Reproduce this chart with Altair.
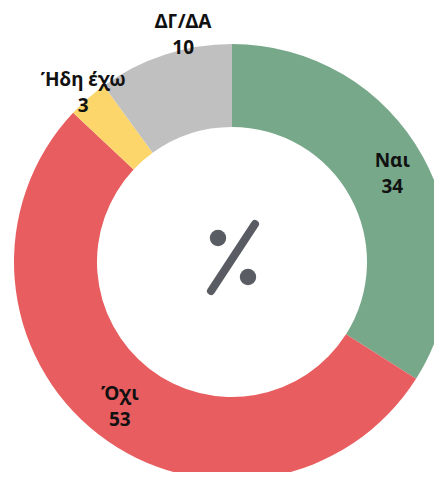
import altair as alt
import pandas as pd

categories = ["Ναι", "Όχι", "Ήδη έχω", "ΔΓ/ΔΑ"]
values = [34, 53, 3, 10]
colors = ["#78a88a", "#e85e60", "#fcd66b", "#c0c0c0"]

df = pd.DataFrame({
    "cat": categories,
    "value": values,
    "order": list(range(len(categories))),
})
df["label"] = [f"{c}\n{v}" for c, v in zip(categories, values)]

CX, CY = 224, 254
ICON = "#595c63"

base = alt.Chart(df).encode(
    theta=alt.Theta("value:Q", stack=True),
    order=alt.Order("order:Q"),
)

arcs = base.mark_arc(radius=218, radius2=135, stroke=None).encode(
    x=alt.value(CX), y=alt.value(CY),
    color=alt.Color("cat:N", scale=alt.Scale(domain=categories, range=colors), legend=None),
)

txt = base.mark_text(
    radius=alt.ExprRef("datum.value >= 30 ? 183 : (datum.value >= 5 ? 239 : 225)"),
    dx=alt.ExprRef("datum.value >= 5 && datum.value < 30 ? 25 : 0"),
    dy=-13,
    font="Noto Sans", fontWeight="bold", fontSize=19, lineBreak="\n",
    lineHeight=26, color="#111111",
).encode(x=alt.value(CX), y=alt.value(CY), text="label:N")

# percent icon in the centre
icon_df = pd.DataFrame({"k": [0]})
slash = alt.Chart(icon_df).mark_rule(color=ICON, strokeWidth=8, strokeCap="round").encode(
    x=alt.value(CX - 21), y=alt.value(CY + 29), x2=alt.value(CX + 23), y2=alt.value(CY - 38)
)
dot1 = alt.Chart(icon_df).mark_circle(color=ICON, opacity=1, size=270).encode(
    x=alt.value(CX - 14), y=alt.value(CY - 24)
)
dot2 = alt.Chart(icon_df).mark_circle(color=ICON, opacity=1, size=270).encode(
    x=alt.value(CX + 16), y=alt.value(CY + 15)
)

chart = alt.layer(arcs, txt, slash, dot1, dot2).properties(
    width=426, height=464, autosize=alt.AutoSizeParams(type="none"), padding=0,
).configure_view(stroke=None)

chart.save("out.html", embed_options={"renderer": "svg", "actions": False})
